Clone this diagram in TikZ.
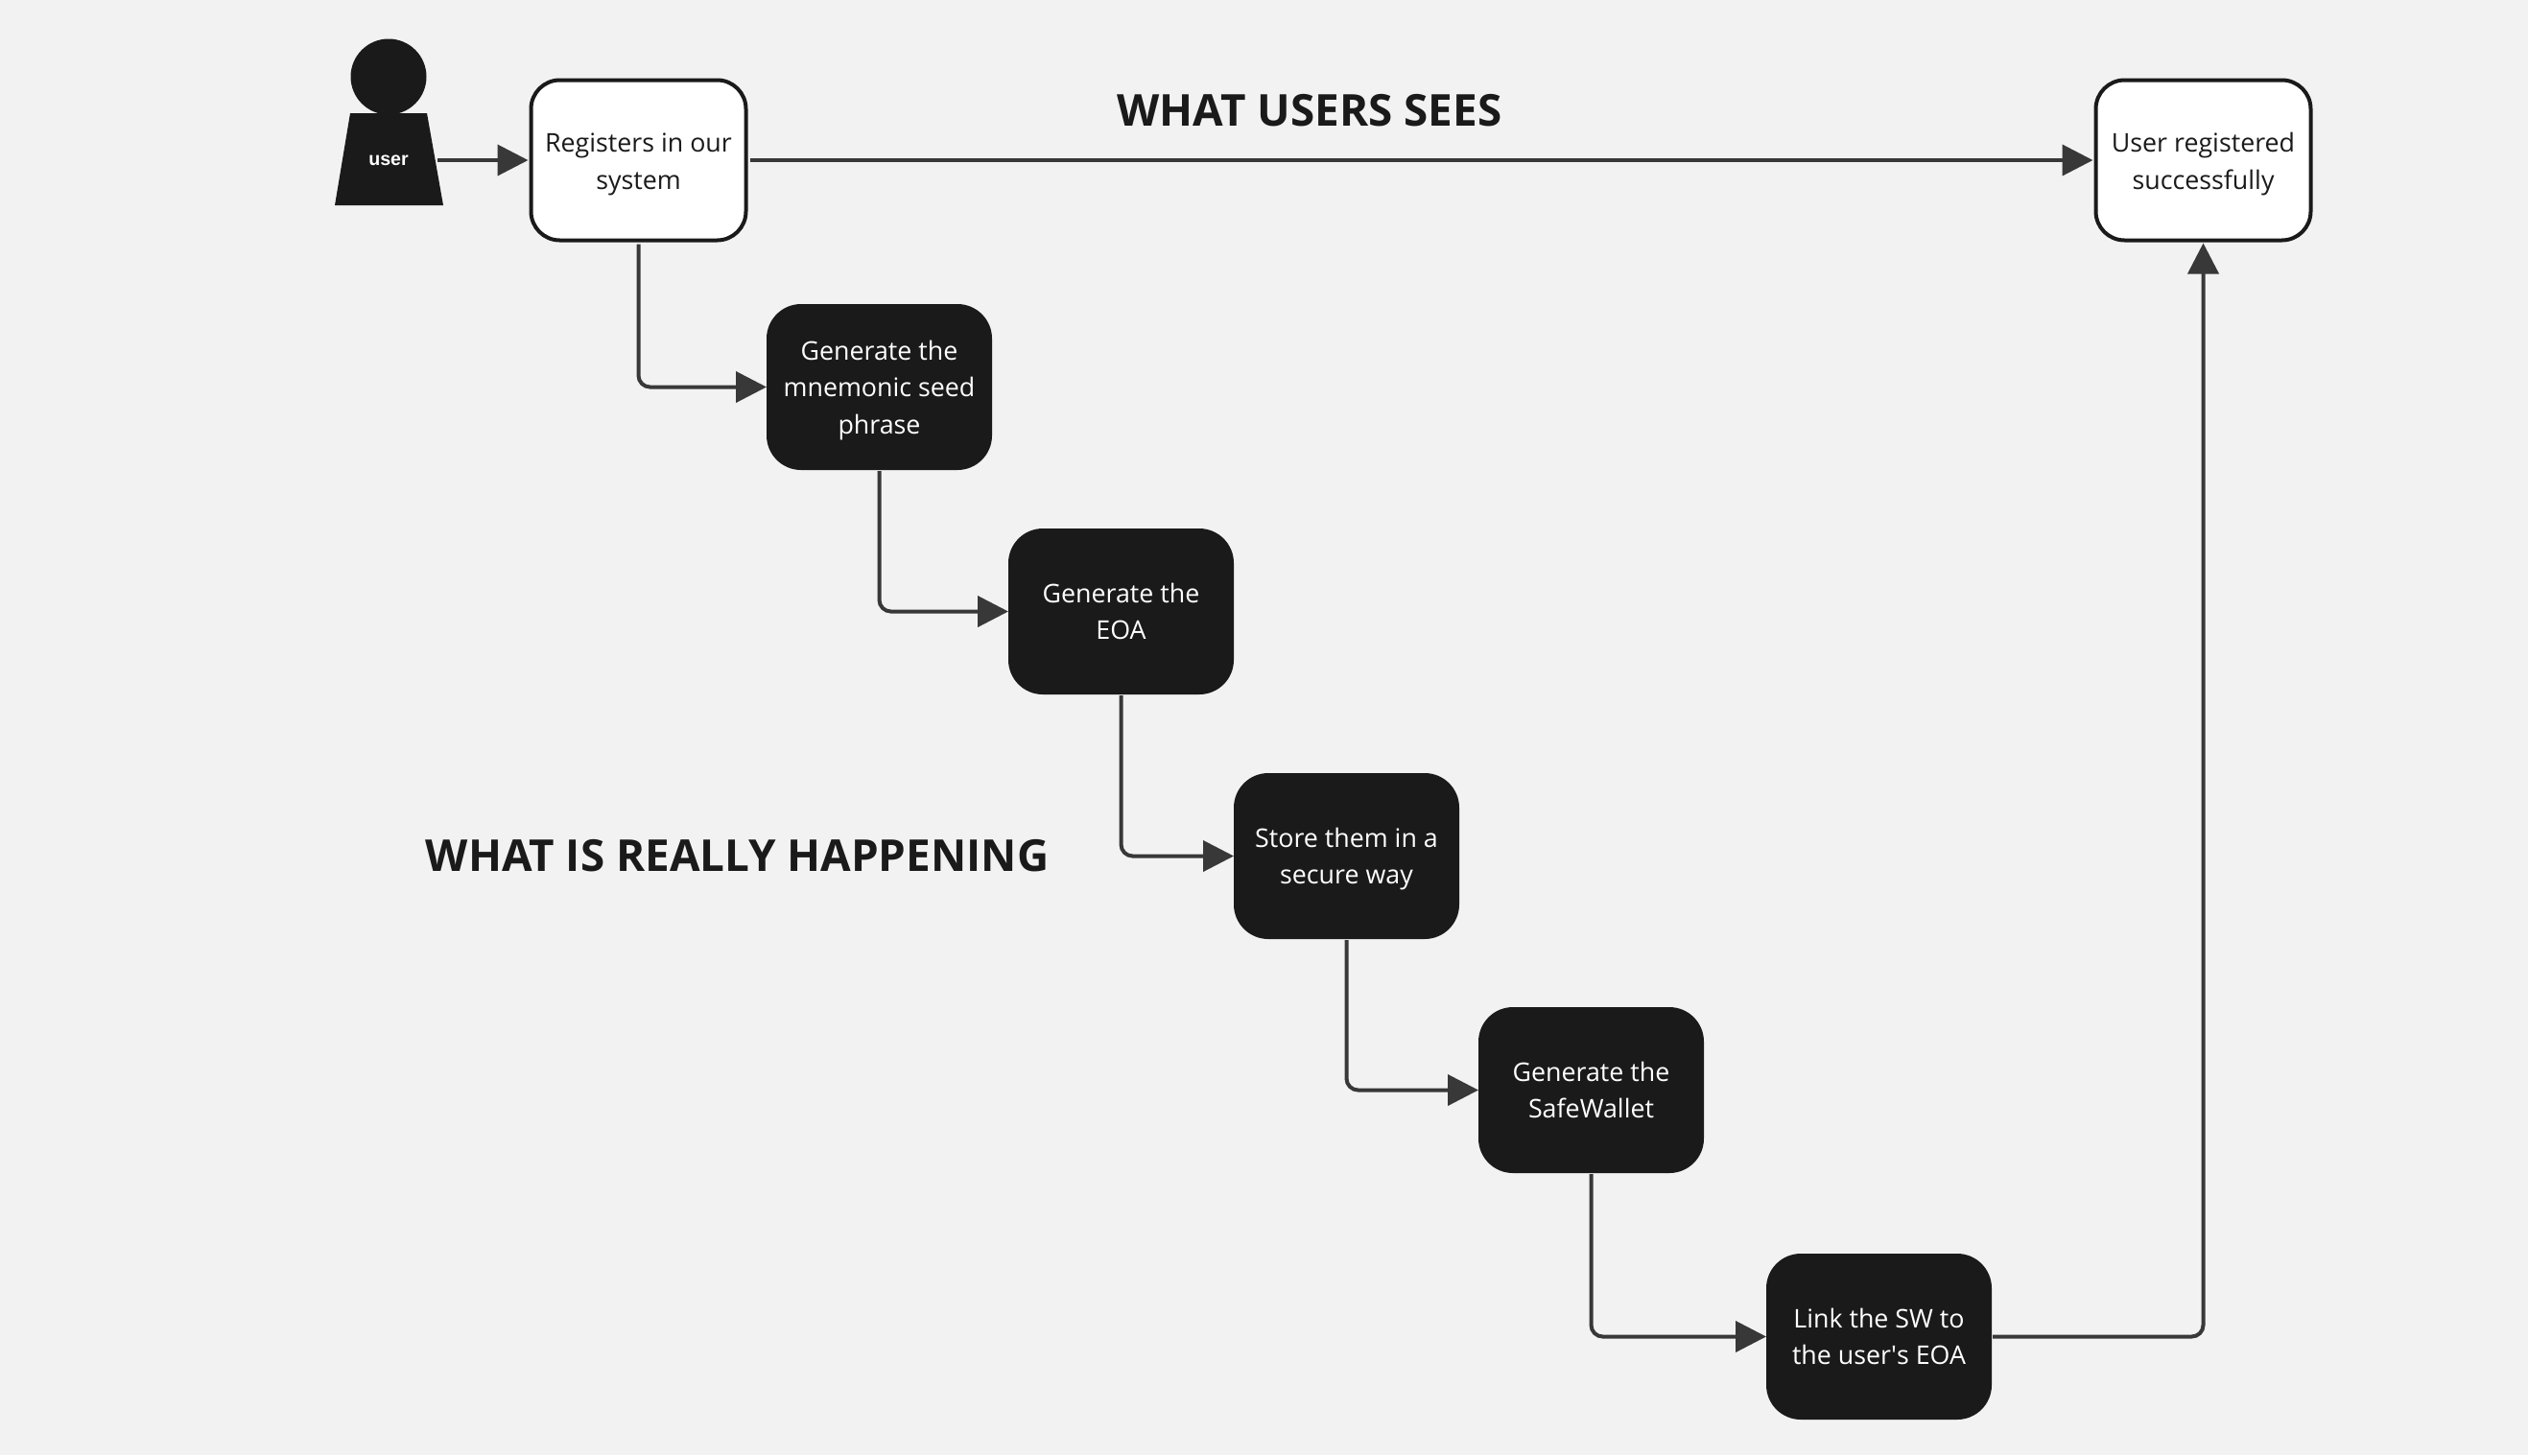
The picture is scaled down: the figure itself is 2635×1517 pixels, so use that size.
\documentclass[tikz,border=0pt]{standalone}
\usepackage{fontspec}
\setmainfont{Open Sans}
\newfontfamily\userfont{Liberation Sans}
\usetikzlibrary{arrows.meta}
\definecolor{backgr}{HTML}{F2F2F2}
\definecolor{inkdark}{HTML}{1A1A1A}
\definecolor{linkgrey}{HTML}{383838}
\tikzset{
	plainbox/.style={draw=inkdark, fill=white, text=inkdark, line width=2pt, rounded corners=15pt, minimum width=112pt, minimum height=83.5pt, align=center, font=\fontsize{13.4}{19.2}\selectfont, text height=30pt, text depth=0pt, inner sep=0pt, outer sep=0pt},
	darkbox/.style={fill=inkdark, text=white, rounded corners=18pt, minimum width=117.5pt, minimum height=86.5pt, align=center, font=\fontsize{13.4}{19.2}\selectfont, text depth=0pt, inner sep=0pt, outer sep=0pt},
	heading/.style={text=inkdark, font=\fontsize{22.9}{28}\selectfont\bfseries, inner sep=0pt},
	flow/.style={draw=linkgrey, line width=2pt, rounded corners=6pt, -{Triangle[length=16pt,width=16pt]}, shorten <=0.5pt, shorten >=0pt},
	fromplain/.style={shorten <=2pt},
	toplain/.style={shorten >=1.5pt}
}
\begin{document}
\begin{tikzpicture}[x=0.5pt, y=-0.5pt]
	\fill[backgr] (0, 0) rectangle (2635, 1517);
	\useasboundingbox (0, 0) rectangle (2635, 1517);

	\node[circle, fill=inkdark, minimum size=39.5pt, inner sep=0pt] (head) at (405, 80) {};
	\fill[inkdark] (365, 118) -- (445, 118) -- (462, 214) -- (349, 214) -- cycle;
	\node[text=white, minimum width=50pt, inner sep=0pt, outer sep=0pt, font=\userfont\fontsize{9.8}{12}\selectfont\bfseries] (user) at (405, 167) {user};

	\node[plainbox] (register) at (665.5, 167) {Registers in our\\system};
	\node[plainbox] (success) at (2296.5, 167) {User registered\\successfully};
	\node[darkbox] (seed) at (916.5, 403.5) {Generate the\\mnemonic seed\\phrase};
	\node[darkbox] (eoa) at (1168.5, 637.5) {Generate the\\EOA};
	\node[darkbox] (store) at (1403.5, 892.5) {Store them in a\\secure way};
	\node[darkbox] (safe) at (1658.5, 1136.5) {Generate the\\SafeWallet};
	\node[darkbox] (swlink) at (1958.5, 1393.5) {Link the SW to\\the user\textquotesingle s EOA};

	\node[heading] (sees) at (1365, 115) {WHAT USERS SEES};
	\node[heading] (happening) at (768.5, 892) {WHAT IS REALLY HAPPENING};

	\draw [flow, toplain] (user) to (register);
	\draw [flow, fromplain, toplain] (register) to (success);
	\draw [flow, fromplain] (register.south) |- (seed.west);
	\draw [flow] (seed.south) |- (eoa.west);
	\draw [flow] (eoa.south) |- (store.west);
	\draw [flow] (store.south) |- (safe.west);
	\draw [flow] (safe.south) |- (swlink.west);
	\draw [flow, toplain] (swlink.east) -| (success.south);
\end{tikzpicture}
\end{document}
